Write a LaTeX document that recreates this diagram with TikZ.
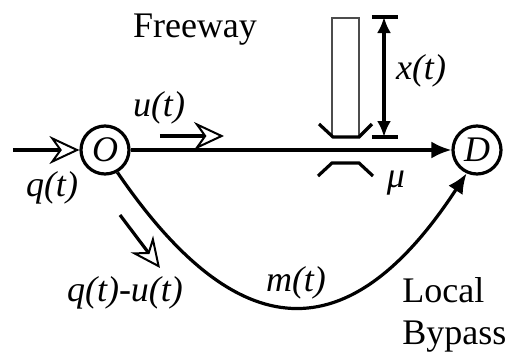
\documentclass[tikz,border=0pt]{standalone}
\usepackage{fontspec}
\setmainfont{Liberation Serif}
\usetikzlibrary{arrows.meta}

\newcommand{\figfont}{\fontsize{18}{21}\selectfont}

\tikzset{
  junction/.style={circle, draw, line width=1.6pt, minimum size=24pt, inner sep=0pt, font=\figfont\itshape},
  flow/.style={line width=1.6pt},
  openhead/.style={-{Stealth[open, length=15pt, width=14pt, inset=5pt, line width=1pt]}},
  solidhead/.style={-{Latex[length=10pt, width=8.5pt]}},
  varlabel/.style={inner sep=0pt, font=\figfont\itshape},
  plainlabel/.style={inner sep=0pt, font=\figfont}
}

\begin{document}
\begin{tikzpicture}[x=0.5pt, y=-0.5pt]
    \useasboundingbox (0,0) rectangle (505,354);

    % Origem e destino
    \node[junction] (O) at (105,150) {O};
    \node[junction] (D) at (477,150) {D};

    % Demanda de entrada
    \coordinate (qin) at (13,150);
    \draw[flow, openhead] (qin) -- (O.west);
    \node[varlabel] (qlab) at (52,188) {q(t)};

    % Rodovia principal
    \draw[flow, solidhead] (O.east) -- (D.west);
    \coordinate (ustart) at (160,136);
    \coordinate (uend) at (224,136);
    \draw[flow, openhead] (ustart) -- (uend);
    \node[varlabel] (ulab) at (159,108) {u(t)};
    \node[plainlabel, anchor=base] (freeway) at (195,37) {Freeway};

    % Fila e gargalo
    \draw[gray!60!black, line width=0.6pt] (332,137) -- (332,18) -- (359,18) -- (359,137);
    \draw[flow] (319,124) -- (333,137) -- (359,137) -- (372,124);
    \draw[flow] (318,176) -- (332,163) -- (359,163) -- (373,176);
    \node[varlabel] (mulab) at (396,183) {μ};

    % Comprimento da fila
    \coordinate (xtop) at (384,17);
    \coordinate (xbot) at (384,137);
    \draw[flow] (372,17) -- (398,17);
    \draw[flow] (372,137) -- (398,137);
    \draw[flow, {Latex[length=8pt, width=7pt]}-{Latex[length=8pt, width=7pt]}] (xtop) -- (xbot);
    \node[varlabel] (xlab) at (421,71) {x(t)};

    % Desvio local
    \coordinate (dstart) at (120,215);
    \coordinate (dend) at (160,268);
    \draw[flow, openhead] (dstart) -- (dend);
    \node[varlabel] (dlab) at (125,293) {q(t)-u(t)};
    \draw[flow, solidhead] (O.-61) .. controls (230,337) and (342,364) .. (D.-114);
    \node[varlabel] (mlab) at (296,283) {m(t)};
    \node[plainlabel, align=left, anchor=north west] (bypass) at (402,277) {Local\\Bypass};
  \end{tikzpicture}
\end{document}
